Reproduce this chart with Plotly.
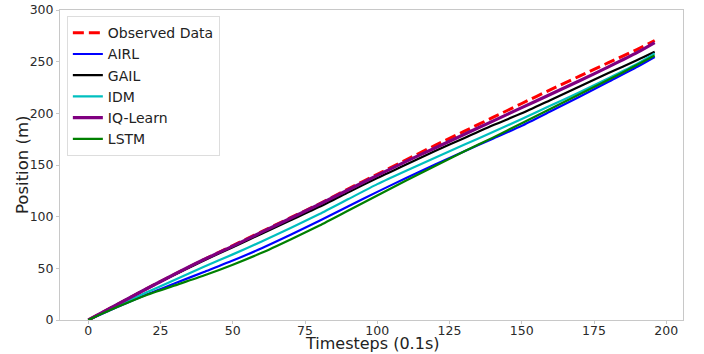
import plotly.graph_objects as go

timesteps = [0, 10, 20, 30, 40, 50, 60, 70, 80, 90, 100, 110, 120, 130, 140, 150, 160, 170, 180, 190, 196]

observed = [0, 15, 30, 44.5, 58.5, 72, 85.5, 99, 112.5, 127, 141, 155, 169, 182.5, 196, 209.5, 223, 236, 249, 262, 270.5]
airl     = [0, 12.5, 24.5, 35.5, 46.5, 57.5, 69.5, 82.5, 96, 110, 124, 137.5, 150.5, 163, 175.5, 188, 202, 216, 230.5, 245, 254.5]
gail     = [0, 15, 30, 44, 57.5, 70.5, 83.5, 96.5, 109.5, 123.5, 137.5, 150.5, 163.5, 176, 188.5, 200, 213, 226, 239, 251.5, 259.5]
idm      = [0, 13.5, 26.5, 39, 51.5, 63.5, 76, 89, 102.5, 117, 131.5, 144.5, 157, 169.5, 182, 194.5, 207.5, 220.5, 234, 248, 258]
iqlearn  = [0, 15, 30, 44.5, 58.5, 71.5, 85, 98.5, 112, 126, 140, 153.5, 166.5, 179.5, 192.5, 205.5, 218.5, 231.5, 245, 259, 268.5]
lstm     = [0, 12.5, 24, 33.5, 43, 53.5, 65, 78, 91.5, 106, 120.5, 135, 149, 163, 176.5, 190.5, 204.5, 218.5, 232.5, 247, 256]

x_ticks = [0, 25, 50, 75, 100, 125, 150, 175, 200]
y_ticks = [0, 50, 100, 150, 200, 250, 300]

series = [
    ("Observed Data", observed, "#ff0000", 3, "11px,5px"),
    ("AIRL", airl, "#0000ff", 2.2, "solid"),
    ("GAIL", gail, "#000000", 2.2, "solid"),
    ("IDM", idm, "#00bfbf", 2.2, "solid"),
    ("IQ-Learn", iqlearn, "#800080", 3.2, "solid"),
    ("LSTM", lstm, "#008000", 2.2, "solid"),
]

fig = go.Figure()
for name, vals, color, width, dash in series:
    fig.add_trace(go.Scatter(
        x=timesteps, y=vals, mode="lines", name=name,
        line=dict(color=color, width=width, dash=dash, shape="spline", smoothing=0.6),
    ))

axis_common = dict(
    showgrid=False, zeroline=False, showline=True, mirror=True,
    linecolor="#c8c8c8", linewidth=1,
    ticks="outside", ticklen=3, tickcolor="#c8c8c8",
    tickfont=dict(family="DejaVu Sans", size=12.5, color="#2a2a2a"),
    automargin=False,
)

fig.update_layout(
    width=704, height=354,
    margin=dict(l=60, r=21, t=10, b=34, autoexpand=False),
    paper_bgcolor="white", plot_bgcolor="white",
    font=dict(family="DejaVu Sans", color="#222222"),
    xaxis=dict(range=[-9.8, 205.8], tickmode="array", tickvals=x_ticks,
               ticklabelstandoff=-4, **axis_common),
    yaxis=dict(range=[0, 300], tickmode="array", tickvals=y_ticks, **axis_common),
    legend=dict(
        x=0.011, y=0.98, xanchor="left", yanchor="top",
        bgcolor="rgba(255,255,255,0.85)", bordercolor="#dddddd", borderwidth=1,
        font=dict(family="DejaVu Sans", size=14, color="#222222"),
        tracegroupgap=0, itemwidth=30,
    ),
    showlegend=True,
    annotations=[
        dict(text="Timesteps (0.1s)", xref="paper", yref="paper", x=0.5, y=-0.0774,
             xanchor="center", yanchor="middle", showarrow=False,
             font=dict(family="DejaVu Sans", size=16, color="#222222")),
        dict(text="Position (m)", xref="paper", yref="paper", x=-0.061, y=0.5,
             xanchor="center", yanchor="middle", showarrow=False, textangle=-90,
             font=dict(family="DejaVu Sans", size=16.5, color="#222222")),
    ],
)

fig.write_html("out.html", config={"displayModeBar": False},
               post_script="document.body.style.margin='0px';")
